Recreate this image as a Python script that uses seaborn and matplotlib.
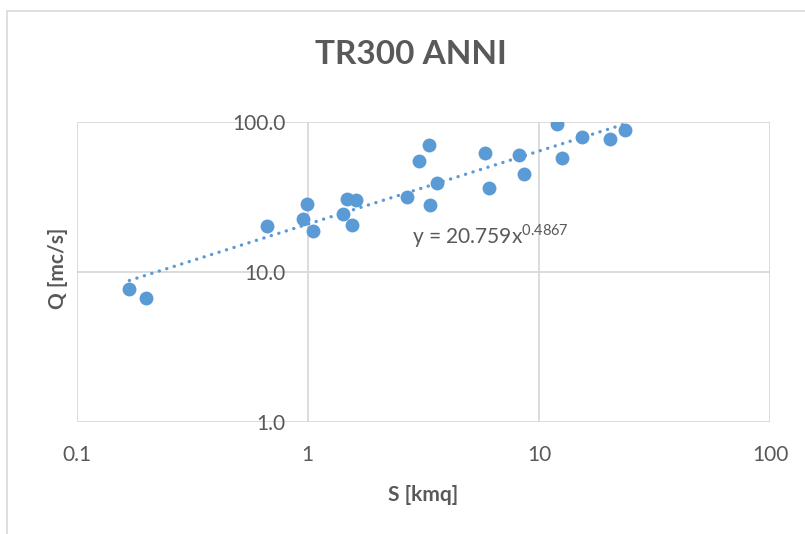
import numpy as np
import pandas as pd
import matplotlib
matplotlib.use("Agg")
import matplotlib.pyplot as plt
import seaborn as sns
from matplotlib.lines import Line2D

# ---- data ----
S_kmq = [0.169, 0.200, 0.668, 0.990, 0.957, 1.057, 1.484, 1.619, 1.417, 1.560,
         2.683, 3.383, 3.640, 3.040, 3.340, 5.870, 6.110, 8.220, 8.660, 11.96,
         12.65, 15.44, 20.30, 23.48]
Q_mcs = [7.70, 6.71, 20.3, 28.4, 22.4, 18.7, 30.5, 30.1, 24.3, 20.5,
         31.6, 27.7, 38.9, 54.7, 70.2, 62.1, 36.3, 60.0, 45.0, 96.1,
         57.0, 79.1, 76.3, 88.0]
trend_coef = [20.759, 0.4867]          # y = a * x^b
x_ticks = [0.1, 1, 10, 100]
x_ticklabels = ["0.1", "1", "10", "100"]
y_ticks = [1, 10, 100]
y_ticklabels = ["1.0", "10.0", "100.0"]

title = "TR300 ANNI"
xlabel = "S [kmq]"
ylabel = "Q [mc/s]"
eq_text = "y = 20.759x$^{0.4867}$"

TXT = "#595959"
BLUE = "#5B9BD5"
GRID = "#D9D9D9"

sns.set_style("white")
plt.rcParams["font.family"] = ["Lato", "DejaVu Sans"]
plt.rcParams["mathtext.fontset"] = "custom"
plt.rcParams["mathtext.rm"] = "Lato"

W, H = 805, 534
fig = plt.figure(figsize=(W / 100, H / 100), dpi=100)
L, R, T, B = 76.7, 770.0, 121.7, 421.7
ax = fig.add_axes([L / W, 1 - B / H, (R - L) / W, (B - T) / H])

df = pd.DataFrame({"S": S_kmq, "Q": Q_mcs})
sns.scatterplot(data=df, x="S", y="Q", ax=ax, color=BLUE, s=100,
                linewidth=0, zorder=3, legend=False)

# power trendline from displayed coefficients
xs = np.logspace(np.log10(min(S_kmq)), np.log10(max(S_kmq)), 200)
ys = trend_coef[0] * xs ** trend_coef[1]
ax.plot(xs, ys, color=BLUE, lw=2.4, linestyle=(0, (0.05, 2.3)),
        dash_capstyle="round", zorder=4)

ax.set_xscale("log")
ax.set_yscale("log")
ax.set_xlim(0.1, 100)
ax.set_ylim(1, 100)

ax.set_xticks(x_ticks)
ax.set_xticklabels(x_ticklabels)
ax.set_yticks(y_ticks)
ax.set_yticklabels(y_ticklabels)
ax.minorticks_off()
ax.tick_params(axis="both", length=0, labelsize=15, labelcolor=TXT)
ax.tick_params(axis="x", pad=17)
ax.tick_params(axis="y", pad=16)

# y-axis crosses at x = 1 (Excel log default)
ax.spines["left"].set_position(("data", 1))
for s in ax.spines.values():
    s.set_visible(False)

for yv in y_ticks:
    ax.axhline(yv, color=GRID, lw=1.3, zorder=0)
for xv in x_ticks:
    ax.axvline(xv, color=GRID, lw=1.3, zorder=0)
ax.grid(False)

ax.set_ylabel("")
ax.set_xlabel(xlabel, fontsize=15, fontweight="bold", color=TXT)
ax.xaxis.set_label_coords(0.5, (B - 495) / (B - T))
ax.xaxis.label.set_va("center")
fig.text(58 / W, 1 - 268 / H, ylabel, rotation=90, fontsize=15,
         fontweight="bold", color=TXT, ha="center", va="center")

fig.text(411 / W, 1 - 55 / H, title, fontsize=24, fontweight="bold",
         color=TXT, ha="center", va="center")

ax.text((412 - L) / (R - L), (B - 236) / (B - T), eq_text,
        transform=ax.transAxes, fontsize=15, color=TXT,
        ha="left", va="center")

# chart-area border (partially cropped)
fig.add_artist(Line2D([7 / W, 7 / W], [0, 1 - 10.5 / H], color=GRID, lw=1.2))
fig.add_artist(Line2D([7 / W, 1], [1 - 10.5 / H, 1 - 10.5 / H], color=GRID, lw=1.2))

fig.savefig("out.png", dpi=100, facecolor="white")
